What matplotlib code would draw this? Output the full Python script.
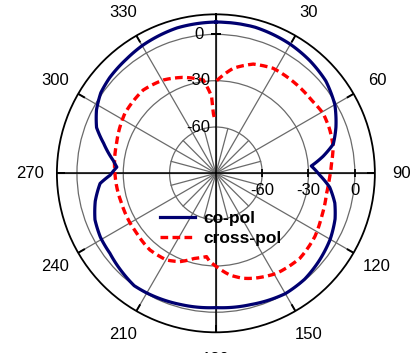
import numpy as np
import matplotlib.pyplot as plt

plt.rcParams['font.family'] = ['Liberation Sans', 'DejaVu Sans']

# radiation pattern, angle in degrees, level in dB
co_theta = [0, 15, 30, 40, 50, 60, 69, 76, 81, 85.6, 91, 97, 104, 111, 120,
            130, 140, 150, 165, 180, 195, 210, 216, 223, 233, 241, 249, 257,
            265, 269, 273.6, 277, 285, 291, 298, 305, 312, 322, 330, 345, 360]
co_db = [8, 8, 6.5, 5, 3, -1, -6.7, -11.6, -19.7, -28, -22.7, -15.7, -10.6,
         -7.3, -4.5, -2.4, -0.5, 0, -2, -3, -2, -0.5, 0, -1.7, -4, -4.5, -6.1,
         -9.8, -14.7, -21.5, -25.7, -23.1, -14.7, -7.2, -2.4, 1, 2.6, 4, 5.5,
         7.5, 8]

cross_theta = [0.5, 9.4, 18.9, 28.6, 40.2, 52.5, 60.8, 69, 77.2, 85, 91.7,
               100.2, 112.3, 122.6, 135.3, 148.8, 160.4, 165.4, 172.2, 179.6,
               183.9, 186.4, 193.9, 202.2, 209.6, 220.7, 233, 252.4, 270,
               286.8, 303.4, 318.9, 330.6, 340.8, 352.3, 356.8, 357.5, 359]
cross_db = [-30, -21, -15.2, -12.5, -12.3, -12, -10.4, -11, -12.1, -14.8,
            -16.2, -17.2, -16, -13.9, -12.6, -14.2, -17.8, -19.7, -23.5, -29.5,
            -32.6, -35.7, -33.3, -28.2, -25.4, -24.5, -25.7, -25.9, -24.6,
            -22.8, -19.4, -18.4, -20.6, -24.2, -29, -40, -51, -55.6]

angle_ticks = list(range(0, 360, 30))
angle_labels = [str(a) for a in angle_ticks]
r_ticks = [-60, -30, 0]
r_labels = ['-60', '-30', '0']
r_min, r_max = -90, 13

fig = plt.figure(figsize=(4.17, 3.53), dpi=100)
ax = fig.add_axes([0.1364, 0.0586, 0.7626, 0.9008], projection='polar')
ax.set_theta_zero_location('N')
ax.set_theta_direction(-1)
ax.set_ylim(r_min, r_max)

ax.set_thetagrids(angle_ticks, angle_labels, fontsize=12)
ax.set_rgrids(r_ticks, labels=[''] * len(r_ticks))
ax.tick_params(axis='x', pad=9)
ax.grid(True, color='#6a6a6a', linewidth=0.9)
ax.spines['polar'].set_linewidth(1.3)

# short spokes between the main ones, only near the centre
for a in np.arange(15, 360, 30):
    ax.plot([np.radians(a)] * 2, [r_min, -60], color='#6a6a6a', lw=0.9, zorder=1)

# main axes in black plus tick marks on the outer circle
for a in [0, 90, 180, 270]:
    ax.plot([np.radians(a)] * 2, [r_min, r_max], color='black', lw=1.1, zorder=2)
for a in angle_ticks:
    ax.plot([np.radians(a)] * 2, [r_max - 5, r_max], color='black', lw=1.4,
            zorder=2, solid_capstyle='butt')

co_line, = ax.plot(np.radians(co_theta), co_db, color='#000070', lw=2.3,
                   label='co-pol', zorder=4)
cross_line, = ax.plot(np.radians(cross_theta), cross_db, color='#ff0000', lw=2.4,
                      dashes=(2.3, 1.3), label='cross-pol', zorder=3)
# draw the segments as polar arcs instead of straight chords
for ln in (co_line, cross_line):
    ln.get_path()._interpolation_steps = 20

# radial scale labels on the vertical and horizontal axes
for r, lbl in zip(r_ticks, r_labels):
    ax.annotate(lbl, xy=(0, r), xytext=(-12.5, 0), textcoords='offset points',
                ha='center', va='center', fontsize=12)
    ax.annotate(lbl, xy=(np.radians(90), r), xytext=(0, -12.5),
                textcoords='offset points', ha='center', va='center', fontsize=12)
    ax.plot(np.radians(90), r, marker='|', color='black', ms=6, mew=1.3, zorder=2)
ax.plot(0, 0, marker='_', color='black', ms=7, mew=1.3, zorder=2)

ax.legend(loc='upper left', bbox_to_anchor=(0.363, 0.426),
          bbox_transform=fig.transFigure, frameon=False, borderpad=0,
          handlelength=2.0, handletextpad=0.5, labelspacing=0.25,
          prop={'weight': 'bold', 'size': 12.5})

fig.savefig('out.png', dpi=100)
